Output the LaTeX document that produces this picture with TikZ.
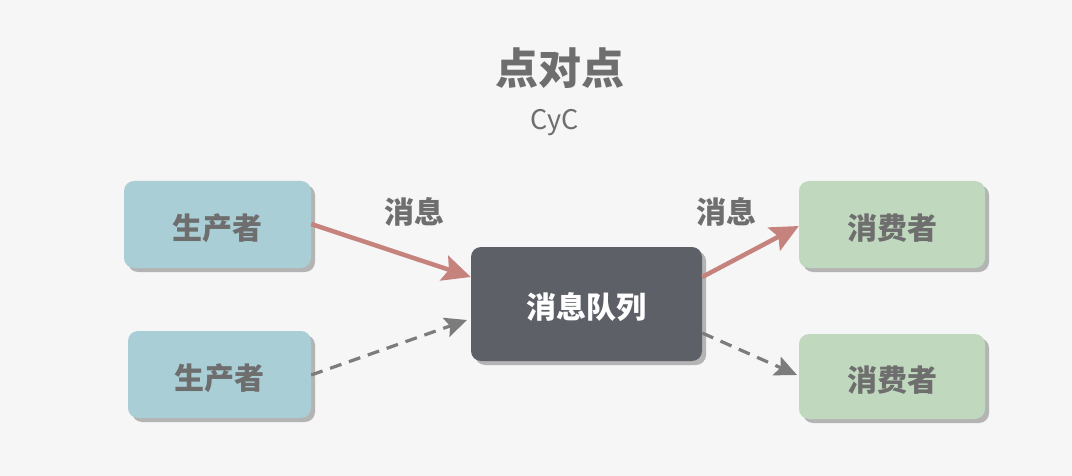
\documentclass[tikz,border=0pt]{standalone}
\usepackage{fontspec}
\setmainfont{Noto Sans CJK SC}
\usetikzlibrary{arrows.meta,shadows}
\definecolor{bg}{HTML}{F6F6F6}
\definecolor{prodc}{HTML}{AACED5}
\definecolor{consc}{HTML}{C0D9BE}
\definecolor{queuec}{HTML}{5E6068}
\definecolor{txtc}{HTML}{6E6E6E}
\definecolor{redc}{HTML}{C6837D}
\definecolor{dashc}{HTML}{7C7C7C}
\definecolor{shadc}{HTML}{B4B4B4}
\newcommand{\lowtxt}[1]{\raisebox{-3.5pt}[\height][\depth]{#1}}
\tikzset{
  boxbase/.style={rounded corners=10pt, inner sep=0pt, font=\fontsize{30}{30}\selectfont\bfseries,
    drop shadow={shadow xshift=4pt, shadow yshift=-4pt, fill=shadc, opacity=1}},
  prod/.style={boxbase, fill=prodc, text=txtc},
  cons/.style={boxbase, fill=consc, text=txtc},
  queue/.style={boxbase, fill=queuec, text=white},
  lbl/.style={font=\fontsize{30}{30}\selectfont\bfseries, text=txtc},
  solidarr/.style={draw=redc, line width=4.5pt, -{Stealth[length=28pt,width=26pt,inset=5pt]}},
  dasharr/.style={draw=dashc, line width=3.2pt, dash pattern=on 12pt off 8pt, -{Stealth[length=22pt,width=20pt,inset=4pt]}}
}
\begin{document}
\begin{tikzpicture}[x=1pt,y=-1pt]
\fill[bg] (0,0) rectangle (1072,476);
\useasboundingbox (0,0) rectangle (1072,476);
\node[font=\fontsize{43}{43}\selectfont\bfseries, text=txtc] (title) at (560,68) {点对点};
\node[font=\fontsize{27}{27}\selectfont, text=txtc] (sub) at (555,123) {CyC};
\node[prod, minimum width=187pt, minimum height=87pt] (p1) at (217.5,224.5) {\lowtxt{生产者}};
\node[prod, minimum width=183pt, minimum height=87pt] (p2) at (219.5,374.5) {\lowtxt{生产者}};
\node[queue, minimum width=231pt, minimum height=114pt] (q) at (586.5,304) {\lowtxt{消息队列}};
\node[cons, minimum width=186pt, minimum height=87pt] (c1) at (892,224.5) {\lowtxt{消费者}};
\node[cons, minimum width=186pt, minimum height=85pt] (c2) at (892,376.5) {\lowtxt{消费者}};
\node[lbl] (l1) at (414,212) {消息};
\node[lbl] (l2) at (726,212) {消息};
\coordinate (p1o) at (p1.east |- 0,224);
\coordinate (qi1) at (q.west |- 0,277);
\coordinate (p2o) at (p2.east |- 0,375);
\coordinate (qi2) at (467,320);
\coordinate (qo1) at (q.east |- 0,277);
\coordinate (c1i) at (c1.west |- 0,226);
\coordinate (qo2) at (q.east |- 0,333);
\coordinate (c2i) at (797,375);
\draw[solidarr] (p1o) -- (qi1);
\draw[dasharr] (p2o) -- (qi2);
\draw[solidarr] (qo1) -- (c1i);
\draw[dasharr] (qo2) -- (c2i);
\end{tikzpicture}
\end{document}
